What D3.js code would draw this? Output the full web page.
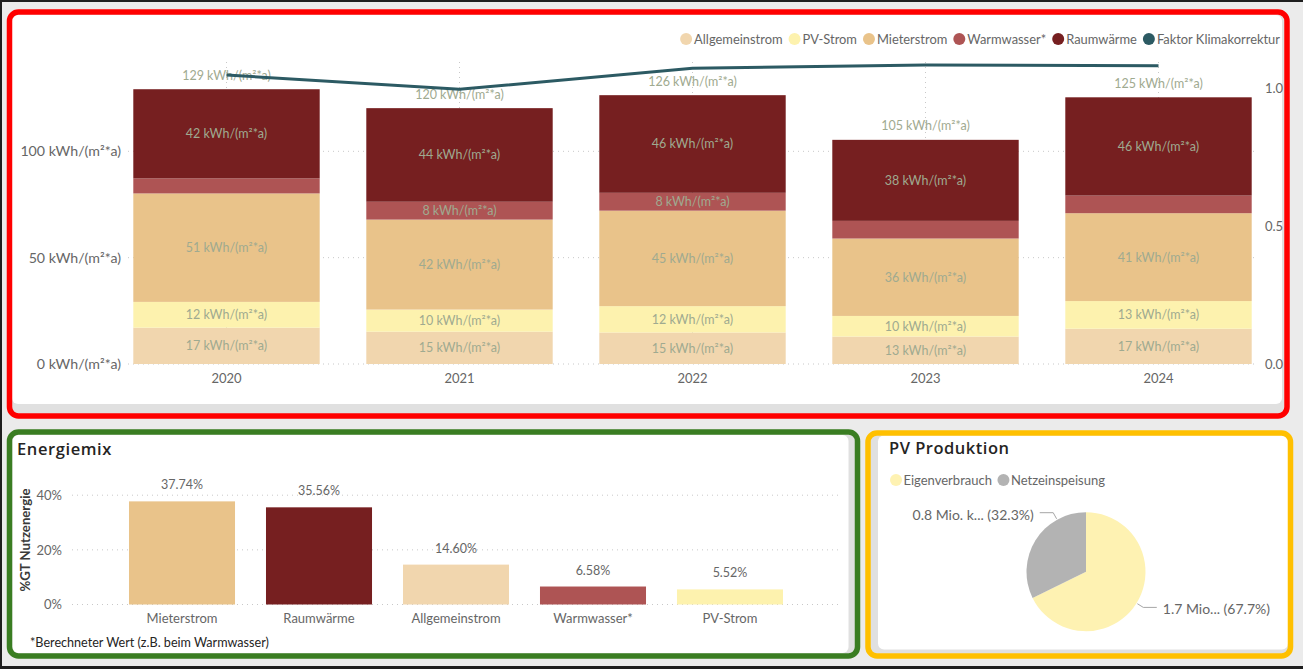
<!DOCTYPE html>
<html><head><meta charset="utf-8">
<script src="https://cdn.jsdelivr.net/npm/d3@7"></script>
<style>
html,body{margin:0;padding:0;background:#ebebeb;overflow:hidden;}
svg{display:block;font-family:Lato,"Noto Sans",sans-serif;}
</style></head><body>
<svg id="c" width="1303" height="669"></svg>
<script>
// ---------- data ----------
const years = ["2020", "2021", "2022", "2023", "2024"];
const seriesNames = ["Allgemeinstrom", "PV-Strom", "Mieterstrom", "Warmwasser*", "Raumwärme"];
const allgemeinstrom = [17.1, 15.2, 14.8, 12.9, 16.6];
const pvStrom = [12.1, 10.4, 12.4, 9.7, 13.0];
const mieterstrom = [51.0, 42.3, 44.9, 36.4, 41.3];
const warmwasser = [7.1, 8.4, 8.4, 8.3, 8.3];
const raumwaerme = [41.9, 44.0, 45.9, 38.1, 46.2];
const warmwasserLabelShown = [false, true, true, false, false];
const klimaFaktor = [1.047, 0.995, 1.071, 1.083, 1.080];
const lineName = "Faktor Klimakorrektur";
const leftTicks = [0, 50, 100];
const rightTicks = [0, 0.5, 1.0];
const unit = " kWh/(m²*a)";

const mixCategories = ["Mieterstrom", "Raumwärme", "Allgemeinstrom", "Warmwasser*", "PV-Strom"];
const mixShares = [37.74, 35.56, 14.60, 6.58, 5.52];
const mixTicks = [0, 20, 40];

const pvCategories = ["Eigenverbrauch", "Netzeinspeisung"];
const pvValues = [1.68, 0.80]; // Mio. kWh
const pvLabelText = ["1.7 Mio...", "0.8 Mio. k..."];

// ---------- styles ----------
const colors = {
  "Allgemeinstrom": "#F1D6AE",
  "PV-Strom": "#FDF2AE",
  "Mieterstrom": "#E9C38A",
  "Warmwasser*": "#AE5454",
  "Raumwärme": "#761F20",
  "Faktor Klimakorrektur": "#2C5A63",
  "Eigenverbrauch": "#FEF2B2",
  "Netzeinspeisung": "#B3B3B3"
};
const axisColor = "#666666";
const dataLabelColor = "#9FAA90";
const gridColor = "#C8C8C8";
const titleColor = "#252423";
const titleFont = "'Open Sans','Noto Sans',sans-serif";

const svg = d3.select("#c");

// ---------- page / panels ----------
svg.append("rect").attr("width", 1303).attr("height", 669).attr("fill", "#ebebeb");
svg.append("rect").attr("x", 0).attr("y", 0).attr("width", 1303).attr("height", 2).attr("fill", "#1e1e1e");
svg.append("rect").attr("x", 0).attr("y", 0).attr("width", 2).attr("height", 669).attr("fill", "#1e1e1e");
svg.append("rect").attr("x", 0).attr("y", 666).attr("width", 1303).attr("height", 3).attr("fill", "#1e1e1e");

function panel(o) {
  svg.append("rect").attr("x", o.gx).attr("y", o.gy).attr("width", o.gw).attr("height", o.gh).attr("rx", 6).attr("fill", "#e0e0e0");
  svg.append("rect").attr("x", o.wx).attr("y", o.wy).attr("width", o.ww).attr("height", o.wh).attr("rx", 6).attr("fill", "#ffffff");
  svg.append("rect").attr("x", o.fx).attr("y", o.fy).attr("width", o.fw).attr("height", o.fh).attr("rx", 9)
    .attr("fill", "none").attr("stroke", o.stroke).attr("stroke-width", 5.5);
}
panel({gx: 12, gy: 15, gw: 1272, gh: 399, wx: 12, wy: 15, ww: 1270, wh: 389, fx: 9.5, fy: 12, fw: 1277.5, fh: 404, stroke: "#FF0000"});
panel({gx: 12.5, gy: 435, gw: 843, gh: 218, wx: 12.5, wy: 435, ww: 836, wh: 218, fx: 9.5, fy: 432, fw: 848, fh: 224, stroke: "#3A7D22"});
panel({gx: 870.5, gy: 435.5, gw: 418, gh: 218, wx: 878, wy: 435.5, ww: 410, wh: 214, fx: 868, fy: 433, fw: 422.5, fh: 223, stroke: "#FFC000"});

// ---------- top chart ----------
const topG = svg.append("g");
const x = d3.scaleBand().domain(years).range([110, 1275]).paddingInner(0.2).paddingOuter(0.1);
const yL = d3.scaleLinear().domain([0, 142]).range([364, 62]);
const yR = d3.scaleLinear().domain([0, 1.094]).range([364, 62]);

// gridlines
topG.append("g").selectAll("line").data(leftTicks).join("line")
  .attr("x1", 128).attr("x2", 1256).attr("y1", d => yL(d)).attr("y2", d => yL(d))
  .attr("stroke", gridColor).attr("stroke-width", 1).attr("stroke-dasharray", "1,4");
topG.append("g").selectAll("line").data(years).join("line")
  .attr("x1", d => x(d) + x.bandwidth() / 2).attr("x2", d => x(d) + x.bandwidth() / 2)
  .attr("y1", yL(142)).attr("y2", yL(0))
  .attr("stroke", gridColor).attr("stroke-width", 1).attr("stroke-dasharray", "1,4");

const rows = years.map((yr, i) => ({
  year: yr,
  "Allgemeinstrom": allgemeinstrom[i],
  "PV-Strom": pvStrom[i],
  "Mieterstrom": mieterstrom[i],
  "Warmwasser*": warmwasser[i],
  "Raumwärme": raumwaerme[i]
}));
const stacked = d3.stack().keys(seriesNames)(rows);

const segG = topG.append("g");
stacked.forEach(layer => {
  segG.append("g").selectAll("rect").data(layer).join("rect")
    .attr("x", d => x(d.data.year)).attr("width", x.bandwidth())
    .attr("y", d => yL(d[1])).attr("height", d => yL(d[0]) - yL(d[1]))
    .attr("fill", colors[layer.key]);
});
stacked.forEach(layer => {
  segG.append("g").selectAll("text").data(layer.filter((d, i) => layer.key !== "Warmwasser*" || warmwasserLabelShown[i])).join("text")
    .attr("x", d => x(d.data.year) + x.bandwidth() / 2)
    .attr("y", d => (yL(d[0]) + yL(d[1])) / 2)
    .attr("text-anchor", "middle").attr("dominant-baseline", "central")
    .attr("font-size", 12.5).attr("fill", dataLabelColor)
    .text(d => Math.round(d[1] - d[0]) + unit);
});
// totals
const totals = rows.map(r => ({year: r.year, total: d3.sum(seriesNames, k => r[k])}));
topG.append("g").selectAll("text").data(totals).join("text")
  .attr("x", d => x(d.year) + x.bandwidth() / 2)
  .attr("y", d => yL(d.total) - 14)
  .attr("text-anchor", "middle").attr("dominant-baseline", "central")
  .attr("font-size", 12.5).attr("fill", dataLabelColor)
  .text(d => Math.round(d.total) + unit);

// line
const lineData = years.map((yr, i) => ({year: yr, v: klimaFaktor[i]}));
topG.append("path").datum(lineData)
  .attr("d", d3.line().x(d => x(d.year) + x.bandwidth() / 2).y(d => yR(d.v)))
  .attr("fill", "none").attr("stroke", colors[lineName]).attr("stroke-width", 3);

// axes
const axL = topG.append("g").attr("transform", "translate(124,0)")
  .call(d3.axisLeft(yL).tickValues(leftTicks).tickSize(0).tickPadding(3).tickFormat(d => d + unit));
const axR = topG.append("g").attr("transform", "translate(1262,0)")
  .call(d3.axisRight(yR).tickValues(rightTicks).tickSize(0).tickPadding(3).tickFormat(d3.format(".1f")));
const axX = topG.append("g").attr("transform", "translate(0,364)")
  .call(d3.axisBottom(x).tickSize(0).tickPadding(10));
[axL, axR, axX].forEach(a => {
  a.select(".domain").remove();
  a.attr("font-family", null);
  a.selectAll("text").attr("fill", axisColor).attr("font-size", 13);
});
axL.selectAll("text").attr("font-size", 14.2);

// legend (right aligned)
const legendItems = seriesNames.concat([lineName]);
const lg = topG.append("g");
const legTexts = lg.selectAll("text").data(legendItems).join("text")
  .attr("font-size", 12.9).attr("fill", axisColor).attr("dominant-baseline", "central").text(d => d);
const widths = [];
legTexts.each(function () { widths.push(this.getComputedTextLength()); });
const legCircleToText = 8, legGap = 12;
let totalW = d3.sum(widths) + legendItems.length * legCircleToText + (legendItems.length - 1) * legGap;
let cx = 1280 - totalW;
legTexts.each(function (d, i) {
  const circleX = cx;
  lg.append("circle").attr("cx", circleX).attr("cy", 39).attr("r", 6).attr("fill", colors[d]);
  d3.select(this).attr("x", circleX + legCircleToText).attr("y", 39);
  cx = circleX + legCircleToText + widths[i] + legGap;
});

// ---------- Energiemix ----------
const mix = svg.append("g");
mix.append("text").attr("x", 17).attr("y", 455).attr("font-size", 16.5).attr("font-weight", 600)
  .attr("font-family", titleFont).attr("letter-spacing", 0.6)
  .attr("fill", titleColor).text("Energiemix");
const xb = d3.scaleBand().domain(mixCategories).range([72, 840]).paddingInner(0.226).paddingOuter(0.416);
const yb = d3.scaleLinear().domain([0, 40]).range([604.5, 495.2]);
mix.append("g").selectAll("line").data(mixTicks).join("line")
  .attr("x1", 72).attr("x2", 840).attr("y1", d => yb(d)).attr("y2", d => yb(d))
  .attr("stroke", gridColor).attr("stroke-dasharray", "1,4");
mix.append("g").selectAll("rect").data(mixCategories).join("rect")
  .attr("x", d => xb(d)).attr("width", xb.bandwidth())
  .attr("y", (d, i) => yb(mixShares[i])).attr("height", (d, i) => yb(0) - yb(mixShares[i]))
  .attr("fill", d => colors[d]);
mix.append("g").selectAll("text").data(mixCategories).join("text")
  .attr("x", d => xb(d) + xb.bandwidth() / 2)
  .attr("y", (d, i) => yb(mixShares[i]) - 16.5)
  .attr("text-anchor", "middle").attr("dominant-baseline", "central")
  .attr("font-size", 12.5).attr("fill", axisColor)
  .text((d, i) => d3.format(".2f")(mixShares[i]) + "%");
const mAxY = mix.append("g").attr("transform", "translate(64,0)")
  .call(d3.axisLeft(yb).tickValues(mixTicks).tickSize(0).tickPadding(2).tickFormat(d => d + "%"));
const mAxX = mix.append("g").attr("transform", "translate(0,604.5)")
  .call(d3.axisBottom(xb).tickSize(0).tickPadding(9));
[mAxY, mAxX].forEach(a => {
  a.select(".domain").remove();
  a.attr("font-family", null);
  a.selectAll("text").attr("fill", axisColor).attr("font-size", 13);
});
mix.append("text").attr("transform", "translate(25,540) rotate(-90)")
  .attr("text-anchor", "middle").attr("dominant-baseline", "central")
  .attr("font-size", 13.2).attr("font-weight", 700).attr("fill", "#3a3a3a")
  .text("%GT Nutzenergie");
mix.append("text").attr("x", 30).attr("y", 642).attr("dominant-baseline", "central")
  .attr("font-size", 12.6).attr("fill", titleColor).text("*Berechneter Wert (z.B. beim Warmwasser)");

// ---------- PV Produktion ----------
const pv = svg.append("g");
pv.append("text").attr("x", 889).attr("y", 454).attr("font-size", 16.5).attr("font-weight", 600)
  .attr("font-family", titleFont).attr("letter-spacing", 0.5)
  .attr("fill", titleColor).text("PV Produktion");
const pvLeg = pv.append("g");
let px = 896;
pvCategories.forEach(c => {
  pvLeg.append("circle").attr("cx", px).attr("cy", 480).attr("r", 6).attr("fill", colors[c]);
  const t = pvLeg.append("text").attr("x", px + 7.5).attr("y", 480).attr("dominant-baseline", "central")
    .attr("font-size", 13).attr("fill", axisColor).text(c);
  px = px + 7.5 + t.node().getComputedTextLength() + 11.5;
});
const pcx = 1086, pcy = 571.7, pr = 59.5;
const pieArcs = d3.pie().sort(null).value(d => d)(pvValues);
const arc = d3.arc().innerRadius(0).outerRadius(pr);
const pieG = pv.append("g").attr("transform", `translate(${pcx},${pcy})`);
pieG.selectAll("path").data(pieArcs).join("path")
  .attr("d", arc).attr("fill", (d, i) => colors[pvCategories[i]]);
const pvTotal = d3.sum(pvValues);
const anchorShiftDeg = [0, 29]; // leader attachment shift, layout only
pieArcs.forEach((a, i) => {
  const ang = (a.startAngle + a.endAngle) / 2 + anchorShiftDeg[i] * Math.PI / 180;
  const sx = Math.sin(ang), sy = -Math.cos(ang);
  const p0 = [(pr + 1) * sx, (pr + 1) * sy];
  const p1 = [(pr + 8) * sx, (pr + 8) * sy];
  const dir = sx >= 0 ? 1 : -1;
  const p2 = [p1[0] + dir * 13.5, p1[1]];
  pieG.append("polyline").attr("points", [p0, p1, p2].map(p => p.join(",")).join(" "))
    .attr("fill", "none").attr("stroke", "#a6a6a6").attr("stroke-width", 1);
  pieG.append("text").attr("x", p2[0] + dir * 6).attr("y", p2[1] + 1.5)
    .attr("text-anchor", dir > 0 ? "start" : "end").attr("dominant-baseline", "central")
    .attr("font-size", 14).attr("fill", axisColor)
    .text(pvLabelText[i] + " (" + d3.format(".1f")(pvValues[i] / pvTotal * 100) + "%)");
});
</script>
</body></html>
